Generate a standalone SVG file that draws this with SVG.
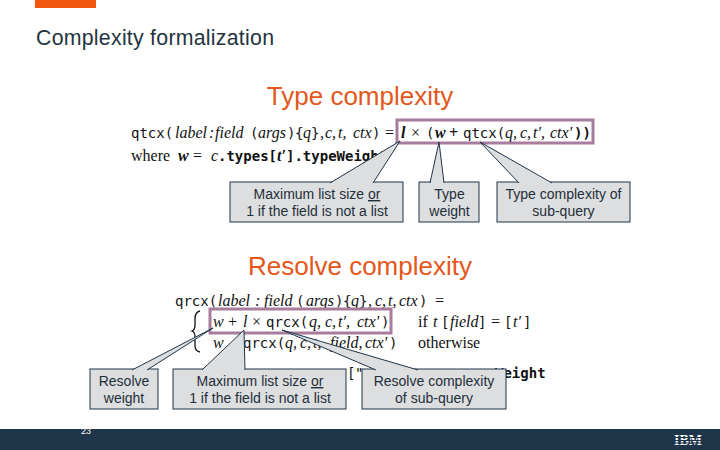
<svg xmlns="http://www.w3.org/2000/svg" width="720" height="450" viewBox="0 0 720 450">
<style>
text{font-family:"Liberation Sans",Arial,sans-serif}
.h{font-size:26px;fill:#e4571b;text-anchor:middle}
.t{font-size:14px;fill:#1f2f3a;text-anchor:middle}
.box{fill:#dcdedf;stroke:#1f3549;stroke-width:1}
.tail{fill:#dcdedf;stroke:#1f3549;stroke-width:1}
.hl{fill:none;stroke:#a87c9c;stroke-width:3}
.f{font-size:15px;fill:#111}
.f text{font-family:"Liberation Serif",serif}
.i{font-family:"Liberation Serif",serif;font-style:italic;font-size:16px}
.b{font-weight:bold}
.s{font-family:"Liberation Serif",serif;font-size:16px}
.m{font-family:"DejaVu Sans Mono",monospace;font-size:14px}
.logo{font-family:"Liberation Serif",serif;font-size:15px;font-weight:bold;fill:#fff}
</style>
<rect x="35" y="0" width="61" height="8" fill="#f1560f"/>
<text x="36" y="45" font-size="21.300" fill="#1f3440" textLength="238">Complexity formalization</text>
<text class="h" x="360" y="105">Type complexity</text>
<text class="h" x="360" y="275">Resolve complexity</text>
<g id="formula-type" class="f">
<text y="138"><tspan class="m" x="131">qtcx(</tspan><tspan class="i" x="175">label</tspan><tspan class="i" x="209">:</tspan><tspan class="i" x="215">field</tspan><tspan class="m" x="250">(</tspan><tspan class="i" x="258">args</tspan><tspan class="m" x="287">)</tspan><tspan class="m" x="295">{</tspan><tspan class="i" x="303">q</tspan><tspan class="m" x="311">}</tspan><tspan class="i" x="320">,</tspan><tspan class="i" x="325">c,</tspan><tspan class="i" x="338">t,</tspan><tspan class="i" x="353">ctx</tspan><tspan class="m" x="372">)</tspan><tspan class="s" x="385">=</tspan></text>
<text y="138"><tspan class="i b" x="401">l</tspan><tspan class="s" x="411">×</tspan><tspan class="m" x="426">(</tspan><tspan class="i b" x="435">w</tspan><tspan class="s b" x="449">+</tspan><tspan class="m" x="463">qtcx(</tspan><tspan class="i" x="505">q,</tspan><tspan class="i" x="520">c,</tspan><tspan class="i" x="533">t′,</tspan><tspan class="i" x="550">ctx′</tspan><tspan class="m b" x="574">))</tspan></text>
<text y="161"><tspan class="s" x="131">where</tspan><tspan class="i b" x="178">w</tspan><tspan class="s" x="193">=</tspan><tspan class="i" x="211">c</tspan><tspan class="m b" x="218">.types[</tspan><tspan class="i b" x="277">t′</tspan><tspan class="m b" x="286">].typeWeight</tspan></text>
</g>
<g id="formula-resolve" class="f">
<text y="306"><tspan class="m" x="175">qrcx(</tspan><tspan class="i" x="218">label</tspan><tspan class="i" x="255">:</tspan><tspan class="i" x="264">field</tspan><tspan class="m" x="296">(</tspan><tspan class="i" x="306">args</tspan><tspan class="m" x="335">)</tspan><tspan class="m" x="343">{</tspan><tspan class="i" x="351">q</tspan><tspan class="m" x="359">}</tspan><tspan class="i" x="368">,</tspan><tspan class="i" x="375">c,</tspan><tspan class="i" x="388">t,</tspan><tspan class="i" x="399">ctx</tspan><tspan class="m" x="419">)</tspan><tspan class="s" x="435">=</tspan></text>
<text y="327"><tspan class="i" x="213">w</tspan><tspan class="s" x="228">+</tspan><tspan class="i" x="243">l</tspan><tspan class="s" x="252">×</tspan><tspan class="m" x="266">qrcx(</tspan><tspan class="i" x="309">q,</tspan><tspan class="i" x="325">c,</tspan><tspan class="i" x="338">t′,</tspan><tspan class="i" x="357">ctx′</tspan><tspan class="m" x="381">)</tspan><tspan class="s" x="418">if</tspan><tspan class="i" x="433">t</tspan><tspan class="m" x="441">[</tspan><tspan class="i" x="450">field</tspan><tspan class="m" x="478">]</tspan><tspan class="s" x="491">=</tspan><tspan class="m" x="504">[</tspan><tspan class="i" x="513">t′</tspan><tspan class="m" x="523">]</tspan></text>
<text y="348"><tspan class="i" x="213">w</tspan><tspan class="m" x="243">qrcx(</tspan><tspan class="i" x="285">q,</tspan><tspan class="i" x="300">c,</tspan><tspan class="i" x="313">t,</tspan><tspan class="i" x="330">field,</tspan><tspan class="i" x="365">ctx′</tspan><tspan class="m" x="389">)</tspan><tspan class="s" x="418">otherwise</tspan></text>
<text y="378"><tspan class="m" x="347">[</tspan><tspan class="m" x="355">"</tspan><tspan class="m b" x="495">Weight</tspan></text>
<path d="M200 311q-5 1-5 8v6q0 5-3 6 3 1 3 6v9q0 5 5 6" fill="none" stroke="#111" stroke-width="1.300"/>
</g>
<rect class="hl" x="397" y="120" width="196" height="23"/>
<rect class="hl" x="210" y="309" width="181" height="24"/>
<g id="node-list-size-type"><rect class="box" x="230" y="182" width="173" height="40"/><text class="t" x="317" y="199">Maximum list size <tspan text-decoration="underline">or</tspan></text><text class="t" x="317" y="216">1 if the field is not a list</text></g>
<g id="node-type-weight"><rect class="box" x="419" y="182" width="60" height="40"/><text class="t" x="449.500" y="199">Type</text><text class="t" x="449.500" y="216">weight</text></g>
<g id="node-type-subquery"><rect class="box" x="497" y="182" width="133" height="40"/><text class="t" x="563.500" y="199">Type complexity of</text><text class="t" x="563.500" y="216">sub-query</text></g>
<g id="node-resolve-weight"><rect class="box" x="90" y="369" width="68" height="40"/><text class="t" x="124" y="386">Resolve</text><text class="t" x="124" y="403">weight</text></g>
<g id="node-list-size-resolve"><rect class="box" x="173" y="369" width="173" height="40"/><text class="t" x="260" y="386">Maximum list size <tspan text-decoration="underline">or</tspan></text><text class="t" x="260" y="403">1 if the field is not a list</text></g>
<g id="node-resolve-subquery"><rect class="box" x="362" y="369" width="144" height="40"/><text class="t" x="434" y="386">Resolve complexity</text><text class="t" x="434" y="403">of sub-query</text></g>
<g id="connectors">
<path class="tail" d="M330 183L400 141L373 183"/>
<path class="tail" d="M430 183L439 142L444 183"/>
<path class="tail" d="M519 183L480 142L552 183"/>
<path class="tail" d="M132 370L213 328L147 370"/>
<path class="tail" d="M202 370L244 330L245 370"/>
<path class="tail" d="M376 370L282 330L418 370"/>
</g>
<g id="footer"><rect x="0" y="429" width="720" height="21" fill="#1f3549"/><text x="81" y="434" font-size="9" fill="#fff">23</text><text class="logo" x="674" y="445" textLength="28" lengthAdjust="spacingAndGlyphs">IBM</text><path d="M672 437.500h32M672 440.500h32M672 443h32" stroke="#1f3549" stroke-width="1"/></g>
</svg>
